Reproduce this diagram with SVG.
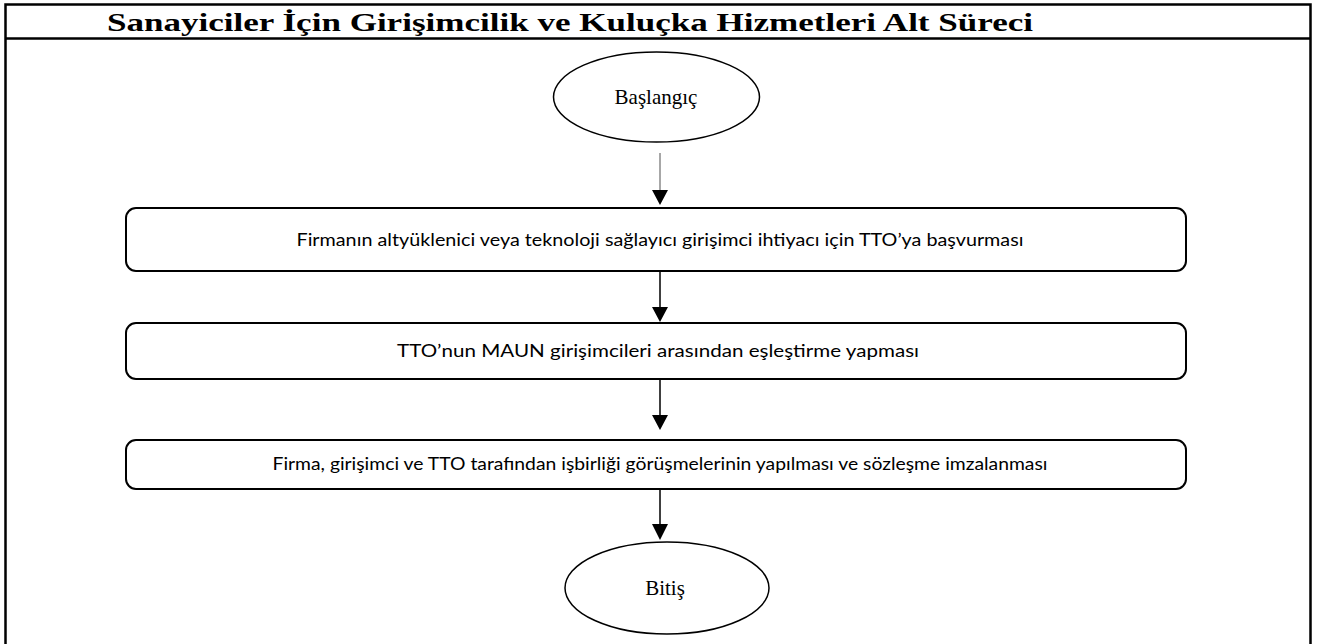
<svg xmlns="http://www.w3.org/2000/svg" width="1320" height="644" viewBox="0 0 1320 644">
<style>
.frame{fill:none;stroke:#000;stroke-width:2.5}
.box{fill:#fff;stroke:#000;stroke-width:2}
.ell{fill:#fff;stroke:#000;stroke-width:1.5}
.lbl{font-family:"Lato","Liberation Sans",sans-serif;font-size:16.5px;fill:#000;text-anchor:middle}
.term{font-family:"Liberation Serif",serif;font-size:21px;fill:#000;text-anchor:middle}
.title{font-family:"Liberation Serif",serif;font-size:26px;font-weight:bold;fill:#000;text-anchor:middle}
.conn{stroke:#000;stroke-width:1.5;fill:none}
.ah{fill:#000}
</style>
<rect width="1320" height="644" fill="#fff"/>
<g id="frame">
<polyline class="frame" points="5.5,646 5.5,4.5 1310.5,4.5 1310.5,646"/>
<line class="frame" x1="5.5" y1="38.5" x2="1310.5" y2="38.5"/>
<text class="title" x="570" y="31" textLength="926" lengthAdjust="spacingAndGlyphs">Sanayiciler İçin Girişimcilik ve Kuluçka Hizmetleri Alt Süreci</text>
</g>
<g id="connectors">
<line x1="660" y1="153" x2="660" y2="191" stroke="#8a8a8a" stroke-width="1.5"/>
<polygon class="ah" points="652,190 668,190 660,205"/>
<line class="conn" x1="660" y1="271" x2="660" y2="308"/>
<polygon class="ah" points="652,307 668,307 660,322"/>
<line class="conn" x1="660" y1="379" x2="660" y2="416"/>
<polygon class="ah" points="652,415 668,415 660,430"/>
<line class="conn" x1="660" y1="489" x2="660" y2="525"/>
<polygon class="ah" points="652,524 668,524 660,540"/>
</g>
<g id="start">
<ellipse class="ell" cx="656.5" cy="97" rx="103" ry="45"/>
<text class="term" x="656" y="104">Başlangıç</text>
</g>
<g id="step1">
<rect class="box" x="126" y="208" width="1060" height="63" rx="10"/>
<text class="lbl" x="660" y="246" textLength="727" lengthAdjust="spacingAndGlyphs">Firmanın altyüklenici veya teknoloji sağlayıcı girişimci ihtiyacı için TTO’ya başvurması</text>
</g>
<g id="step2">
<rect class="box" x="126" y="323" width="1060" height="56" rx="10"/>
<text class="lbl" x="658" y="357" textLength="522" lengthAdjust="spacingAndGlyphs">TTO’nun MAUN girişimcileri arasından eşleştirme yapması</text>
</g>
<g id="step3">
<rect class="box" x="126" y="440" width="1060" height="49" rx="10"/>
<text class="lbl" x="660" y="470" textLength="775" lengthAdjust="spacingAndGlyphs">Firma, girişimci ve TTO tarafından işbirliği görüşmelerinin yapılması ve sözleşme imzalanması</text>
</g>
<g id="end">
<ellipse class="ell" cx="667" cy="588" rx="102" ry="46"/>
<text class="term" x="665" y="595">Bitiş</text>
</g>
</svg>
